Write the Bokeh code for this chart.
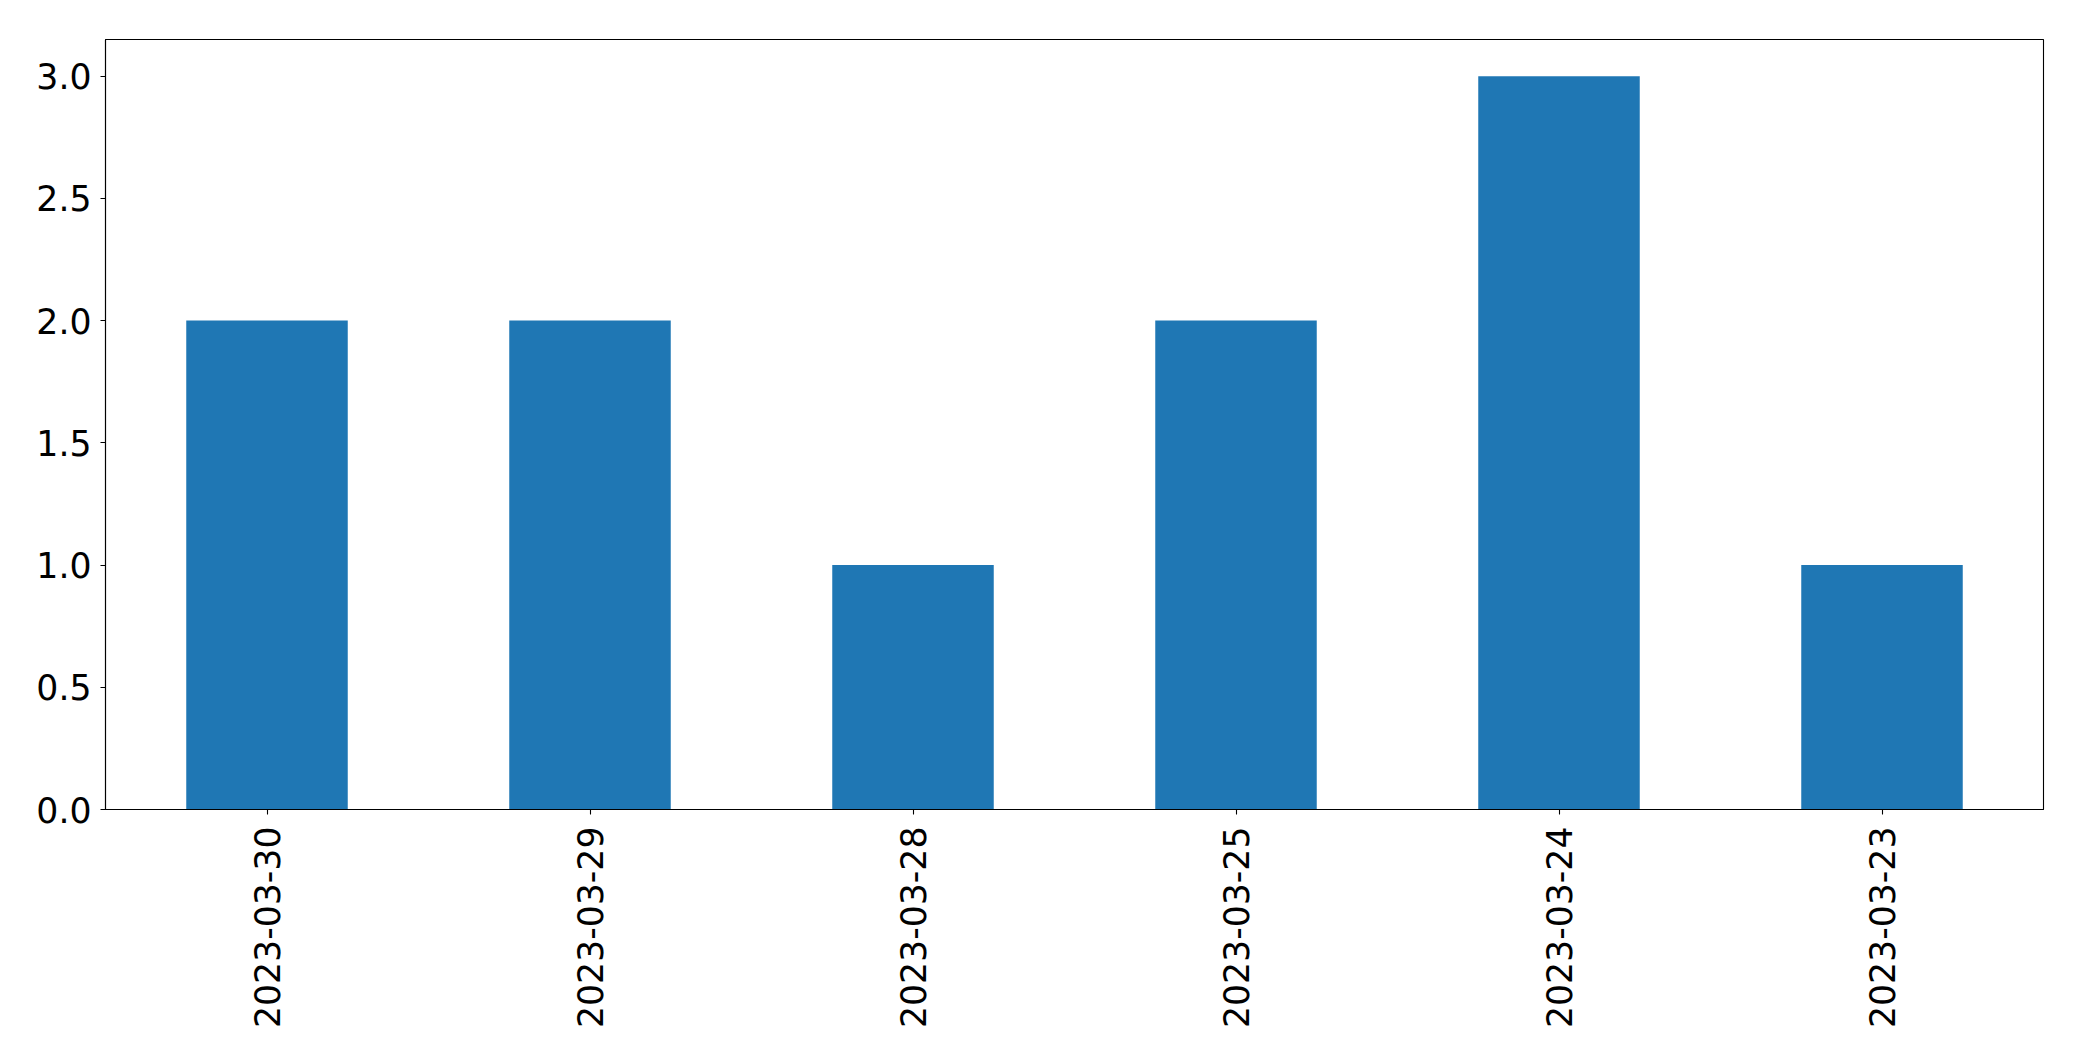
import math
from bokeh.plotting import figure
from bokeh.models import FactorRange, Range1d, FixedTicker, NumeralTickFormatter
from bokeh.embed import file_html
from bokeh.resources import INLINE

dates = ["2023-03-30", "2023-03-29", "2023-03-28", "2023-03-25", "2023-03-24", "2023-03-23"]
counts = [2, 2, 1, 2, 3, 1]
y_ticks = [0.0, 0.5, 1.0, 1.5, 2.0, 2.5, 3.0]

p = figure(
    width=2074, height=1053,
    x_range=FactorRange(factors=dates, range_padding=0),
    y_range=Range1d(0, 3.15),
    output_backend="svg", toolbar_location=None,
    min_border_left=105, min_border_right=31, min_border_top=39, min_border_bottom=244,
)
p.vbar(x=dates, top=counts, width=0.5, fill_color="#1f77b4", line_color=None)

p.xgrid.visible = False
p.ygrid.visible = False
p.outline_line_color = "black"
p.outline_line_width = 1.1
p.background_fill_color = "white"
p.border_fill_color = "white"

font = "DejaVu Sans"
fs = "34.7px"
for ax in (p.xaxis[0], p.yaxis[0]):
    ax.axis_line_color = "black"
    ax.axis_line_width = 1.1
    ax.major_tick_line_color = "black"
    ax.major_tick_line_width = 1.1
    ax.major_tick_out = 5
    ax.major_tick_in = 0
    ax.minor_tick_line_color = None
    ax.major_label_text_font = font
    ax.major_label_text_font_size = fs
    ax.major_label_text_color = "black"

p.xaxis[0].major_label_orientation = math.pi / 2
p.xaxis[0].major_label_standoff = 12
p.xaxis[0].group_text_font_size = "0px"
p.yaxis[0].ticker = FixedTicker(ticks=y_ticks)
p.yaxis[0].formatter = NumeralTickFormatter(format="0.0")
p.yaxis[0].major_label_standoff = 9

open("out.html", "w").write(file_html(p, INLINE))
